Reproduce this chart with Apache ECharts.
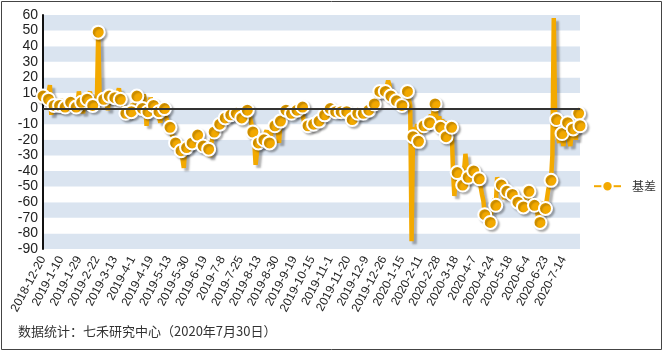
<!DOCTYPE html>
<html>
<head>
<meta charset="utf-8">
<title>基差</title>
<script src="https://cdn.jsdelivr.net/npm/echarts@6/dist/echarts.min.js"></script>
<style>
  html, body { margin: 0; padding: 0; background: #fff; }
  #chart { width: 665px; height: 353px; }
</style>
</head>
<body>
<div id="chart"></div>
<script>
// 交易日：2018-12-20 至 2020-7-30（去掉周末和节假日）
const startDay = "2018-12-20";
const endDay = "2020-7-30";
const holidays = [
  "2018-12-31", "2019-1-1",
  "2019-2-4", "2019-2-5", "2019-2-6", "2019-2-7", "2019-2-8",
  "2019-4-5", "2019-5-1", "2019-5-2", "2019-5-3", "2019-6-7", "2019-9-13",
  "2019-10-1", "2019-10-2", "2019-10-3", "2019-10-4", "2019-10-7",
  "2020-1-1",
  "2020-1-24", "2020-1-27", "2020-1-28", "2020-1-29", "2020-1-30", "2020-1-31",
  "2020-4-6", "2020-5-1", "2020-5-4", "2020-5-5", "2020-6-25", "2020-6-26"
];

// 基差（每行10个交易日）
const basis = [
  8, 7, 10, 5, 6, 15, -4, 3, 2, 4,
  5, 3, 2, 6, 1, 2, 1, 4, 6, 3,
  4, 2, 5, 1, 1, 3, 11, 5, 4, -3,
  6, 5, 6, 8, 11, 4, 2, 7, 5, 3,
  49, 9, 5, 7, 6, 8, 7, -1, 8, 5,
  7, 9, 7, 5, 10, 13, 6, 4, 2, -4,
  -3, -1, 1, -2, -2, 3, 1, 5, 8, 4,
  6, 2, 0, 9, 5, -11, -2, 3, 7, 4,
  2, 4, 1, -1, -2, -9, -3, 0, 0, -5,
  -8, -15, -12, -16, -18, -20, -22, -25, -27, -29,
  -27, -32, -38, -25, -25, -22, -26, -20, -22, -18,
  -16, -19, -17, -15, -18, -21, -24, -20, -23, -28,
  -26, -31, -22, -18, -15, -14, -12, -13, -10, -8,
  -9, -7, -6, -5, -4, -6, -4, -2, -3, -5,
  -3, -1, -4, -7, -6, -3, -2, 0, -1, -3,
  -6, -10, -15, -20, -36, -28, -22, -19, -24, -21,
  -20, -16, -14, -19, -22, -18, -12, -8, -11, -10,
  -14, -22, -8, -5, -3, 2, -1, -3, -2, -4,
  -3, -1, -3, -2, -1, 1, 2, 0, 1, -8,
  -12, -9, -11, -8, -7, -10, -10, -6, -9, -8,
  -8, -6, -5, -3, -4, -2, 1, 0, 0, -2,
  -1, -3, -2, 0, -1, -3, -2, 0, -2, -1,
  -2, -4, -3, -6, -7, -4, -5, -2, -3, -1,
  -2, -4, -3, -1, -2, 0, -1, 1, 2, 3,
  3, 5, 8, 12, 11, 9, 13, 12, 11, 14,
  18, 15, 8, 10, 6, 9, 5, 7, 3, 5,
  2, 4, 1, 6, 11, 6, 2, -85, -18, -12,
  -16, -10, -21, -17, -14, -13, -11, -7, -12, -9,
  -9, -4, -8, -1, 3, -5, -10, -5, -12, -7,
  -10, -8, -18, -14, -9, -8, -12, -40, -56, -44,
  -41, -45, -38, -42, -49, -40, -29, -38, -44, -41,
  -37, -43, -40, -42, -47, -42, -45, -50, -55, -59,
  -68, -64, -69, -73, -73, -66, -60, -58, -62, -44,
  -48, -52, -49, -55, -58, -52, -53, -56, -57, -54,
  -55, -58, -56, -59, -60, -57, -62, -60, -63, -58,
  -57, -55, -53, -58, -62, -60, -62, -64, -66, -72,
  -73, -68, -62, -60, -64, -58, -52, -49, -46, -30,
  58, -6, -7, -18, -22, -12, -16, -24, -14, -10,
  -9, -20, -24, -15, -13, -8, -20, -10, -3, -11
];

const seriesName = "基差";
const footNote = "数据统计：七禾研究中心（2020年7月30日）";

function buildDays(start, end, skip) {
  const parse = s => {
    const p = s.split("-").map(Number);
    return Date.UTC(p[0], p[1] - 1, p[2]);
  };
  const out = [];
  const last = parse(end);
  for (let t = parse(start); t <= last; t += 86400000) {
    const d = new Date(t);
    const wd = d.getUTCDay();
    const label = d.getUTCFullYear() + "-" + (d.getUTCMonth() + 1) + "-" + d.getUTCDate();
    if (wd === 0 || wd === 6 || skip.indexOf(label) >= 0) continue;
    out.push(label);
  }
  return out;
}

const days = buildDays(startDay, endDay, holidays);

const chart = echarts.init(document.getElementById("chart"));
const lineColor = "#F3A900";

const option = {
  animation: false,
  backgroundColor: "#fff",
  textStyle: { fontFamily: "'Liberation Sans', Arial, 'Noto Sans CJK SC', sans-serif" },
  grid: {
    left: 43,
    right: 85,
    top: 15,
    bottom: 104
  },
  legend: {
    left: 588,
    top: 175,
    itemWidth: 27,
    itemHeight: 13,
    textStyle: {
      color: "#333",
      fontSize: 12,
      padding: [0, 0, 0, 6],
      fontFamily: "'Noto Sans CJK SC'"
    },
    data: [seriesName]
  },
  xAxis: {
    type: "category",
    data: days,
    boundaryGap: false,
    axisLine: { show: false, onZero: false },
    axisTick: { show: false },
    axisLabel: {
      interval: 12,
      rotate: 62,
      margin: 8,
      fontSize: 12,
      color: "#222"
    },
    splitLine: { show: false }
  },
  yAxis: {
    type: "value",
    min: -90,
    max: 60,
    interval: 10,
    axisLine: {
      show: true,
      lineStyle: { color: "#111", width: 2 }
    },
    axisTick: { show: false },
    axisLabel: {
      margin: 5,
      fontSize: 14,
      color: "#222"
    },
    splitLine: { show: false },
    splitArea: {
      show: true,
      areaStyle: { color: ["#DAE4F0", "#ffffff"] }
    }
  },
  series: [
    {
      name: seriesName,
      type: "line",
      data: basis,
      showAllSymbol: true,
      symbol: "circle",
      symbolSize: (val, params) =>
        params.dataIndex % 4 === 0 || params.dataIndex === basis.length - 1 ? 13 : 0,
      lineStyle: {
        color: lineColor,
        width: 4.5,
        shadowColor: "rgba(0,0,0,0.3)",
        shadowBlur: 2,
        shadowOffsetX: 3,
        shadowOffsetY: 3
      },
      itemStyle: {
        color: lineColor,
        borderColor: "#fff",
        borderWidth: 2,
        shadowColor: "rgba(0,0,0,0.25)",
        shadowBlur: 2,
        shadowOffsetX: 2,
        shadowOffsetY: 2
      },
      emphasis: { disabled: true },
      markLine: {
        silent: true,
        symbol: "none",
        label: { show: false },
        lineStyle: { color: "#333", width: 2, type: "solid", shadowBlur: 0 },
        data: [{ yAxis: 0 }]
      },
      z: 3
    }
  ],
  graphic: [
    {
      type: "rect",
      shape: { x: 1.5, y: 1.5, width: 660, height: 348 },
      style: { fill: "none", stroke: "#444", lineWidth: 1 },
      silent: true
    },
    {
      type: "text",
      left: 18,
      top: 325,
      style: {
        text: footNote,
        fill: "#333",
        fontSize: 13,
        fontFamily: "'Noto Sans CJK SC'"
      },
      silent: true
    }
  ]
};

chart.setOption(option);
</script>
</body>
</html>
